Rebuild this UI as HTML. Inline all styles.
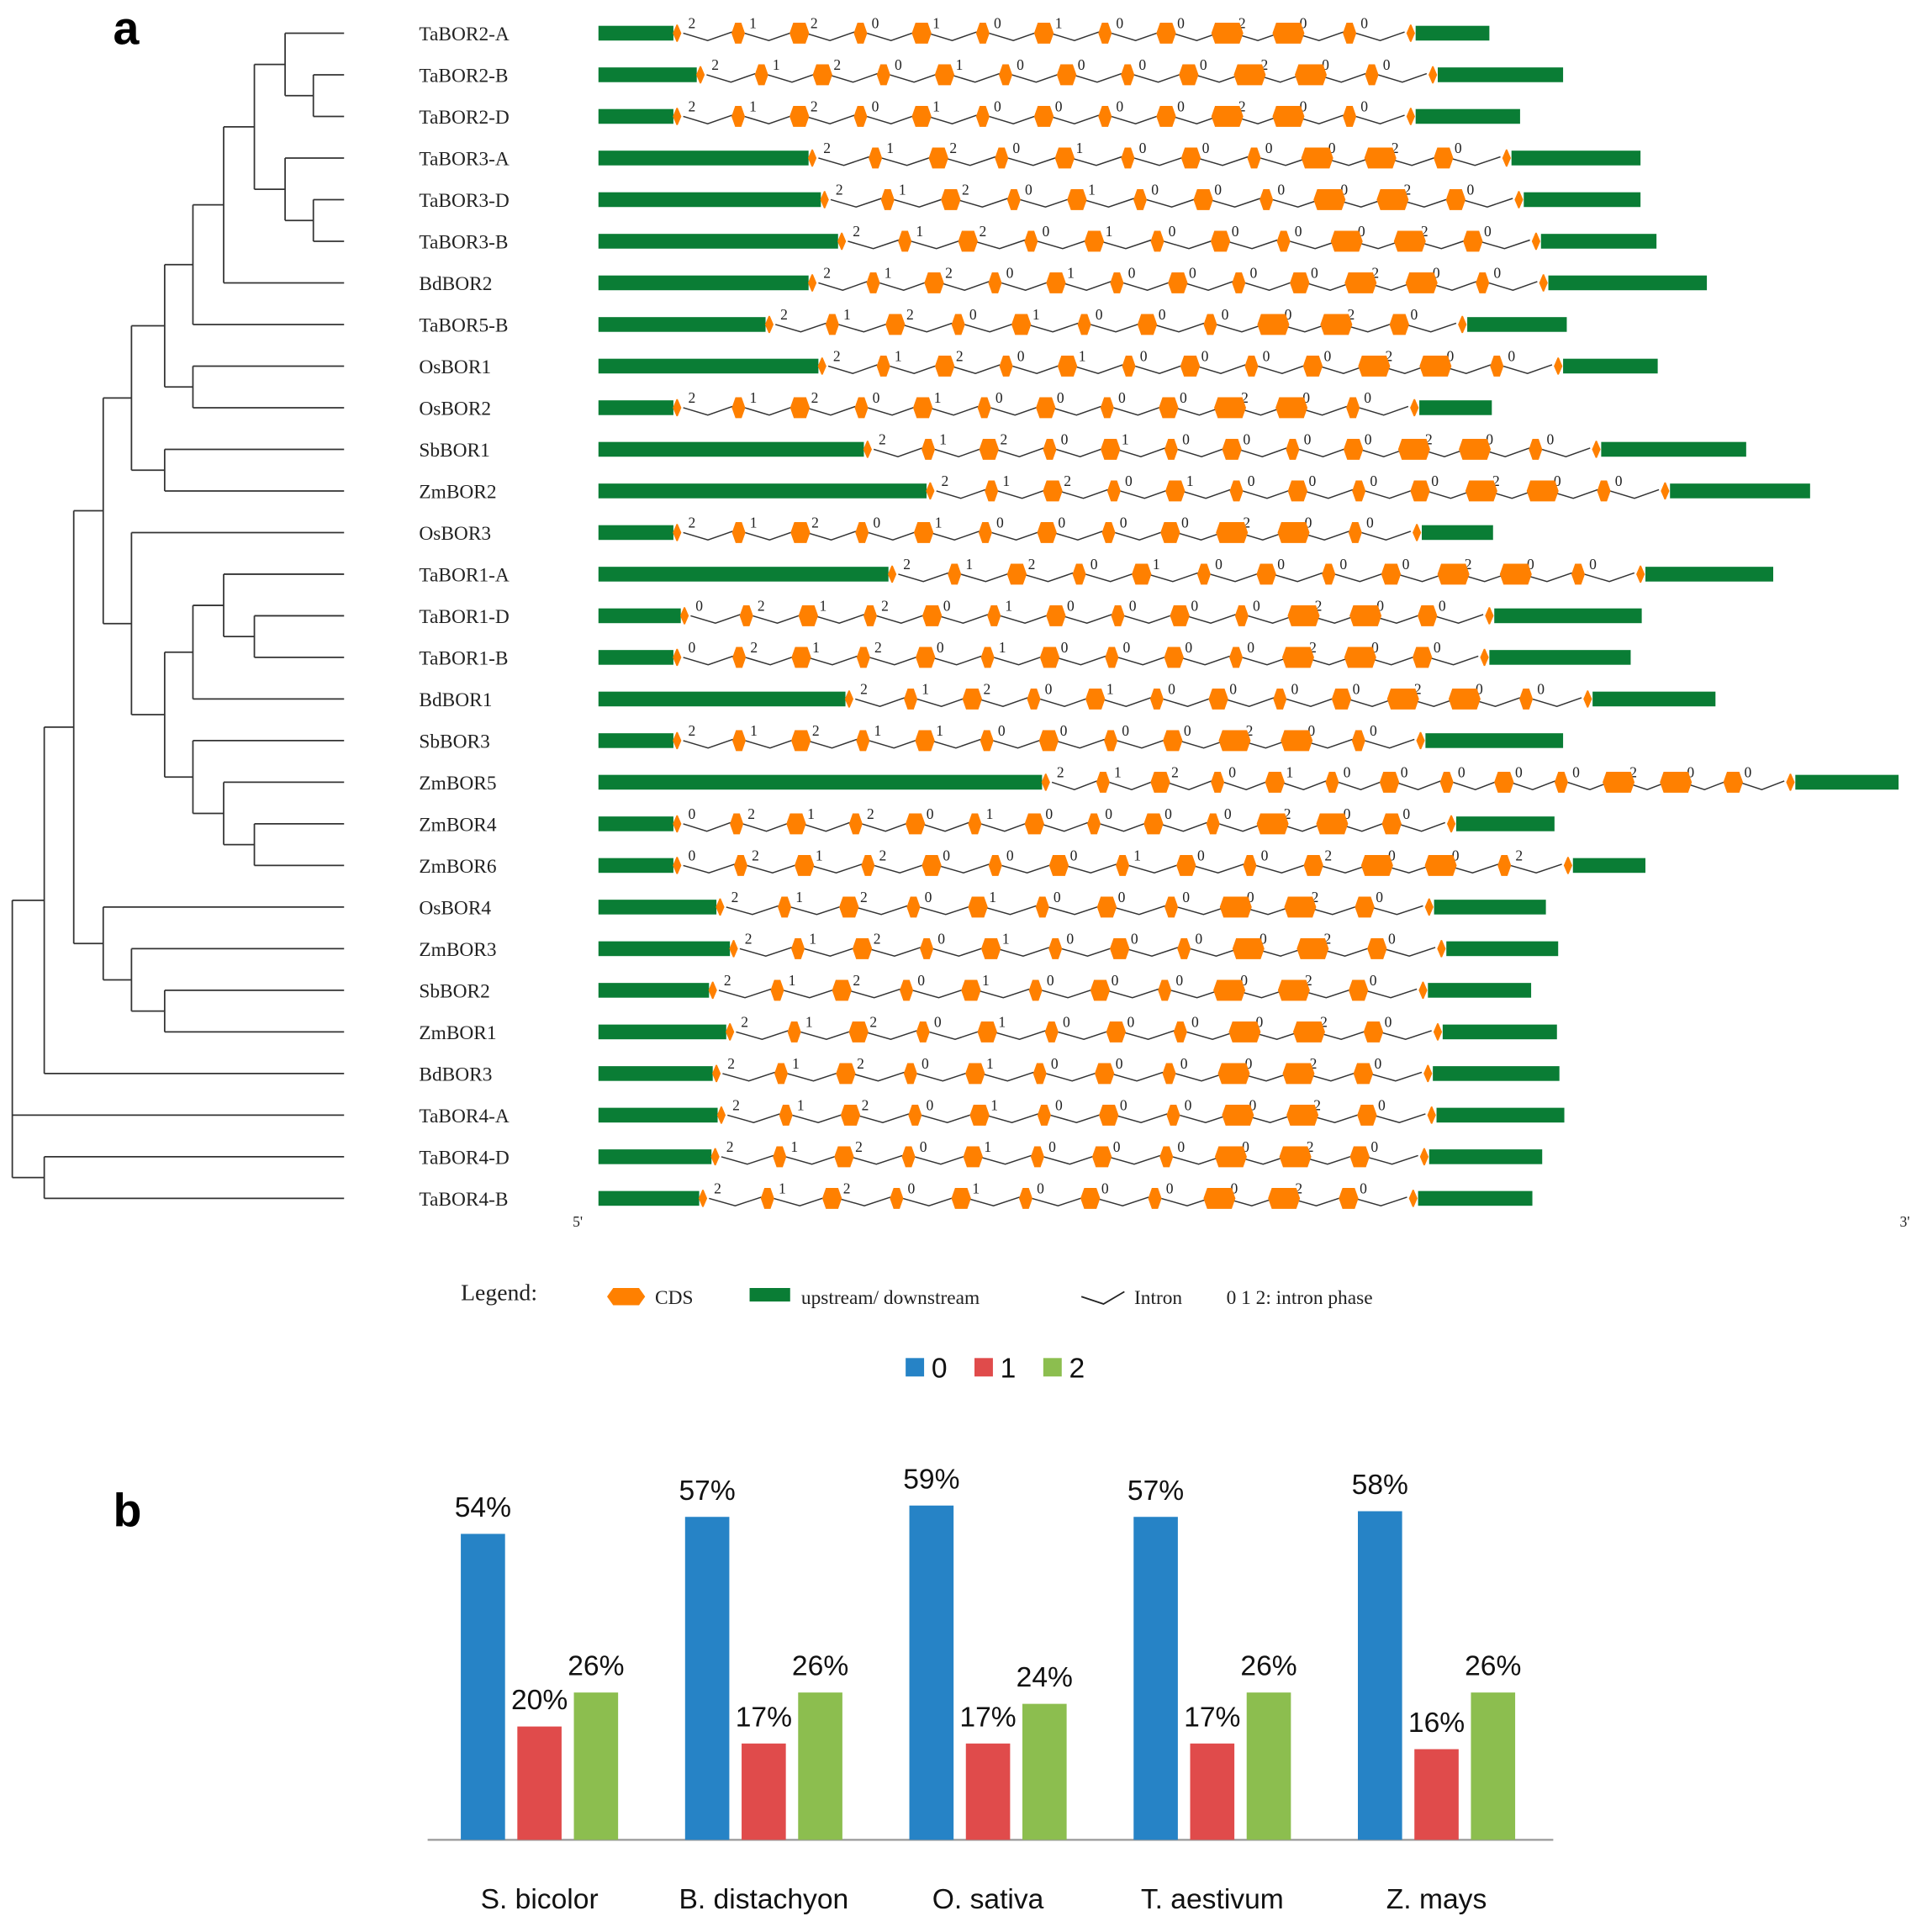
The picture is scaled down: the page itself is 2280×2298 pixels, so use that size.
<!DOCTYPE html>
<html><head><meta charset="utf-8">
<style>
html,body{margin:0;padding:0;background:#fff;}
svg{display:block;}
.gn{font-family:"Liberation Serif",serif;font-size:16px;fill:#222;}
.ph{font-family:"Liberation Serif",serif;font-size:12px;fill:#222;}
.ch{font-family:"Liberation Sans",sans-serif;font-size:23px;fill:#111;}
</style></head>
<body>
<svg id="fig" width="2280" height="2298" viewBox="0 0 1560 1572" preserveAspectRatio="none" xmlns="http://www.w3.org/2000/svg">
<text x="92" y="36" font-family="Liberation Sans,sans-serif" font-weight="bold" font-size="38">a</text>
<text x="92" y="1242" font-family="Liberation Sans,sans-serif" font-weight="bold" font-size="38">b</text>
<g id="tree"></g>
<g id="genes"></g>
<text x="466" y="998" class="ph">5'</text>
<text x="1546" y="998" class="ph">3'</text>
<g>
<text x="375" y="1058" font-family="Liberation Serif,serif" font-size="19" fill="#222">Legend:</text>
<polygon points="494,1055 499,1048 520,1048 525,1055 520,1062 499,1062" fill="#ff8000"/>
<text x="533" y="1061" font-family="Liberation Serif,serif" font-size="16" fill="#222">CDS</text>
<rect x="610" y="1048" width="33" height="11" fill="#0a7d35"/>
<text x="652" y="1061" font-family="Liberation Serif,serif" font-size="16" fill="#222">upstream/ downstream</text>
<polyline points="880,1055 898,1061 915,1051" fill="none" stroke="#222" stroke-width="1.2"/>
<text x="923" y="1061" font-family="Liberation Serif,serif" font-size="16" fill="#222">Intron</text>
<text x="998" y="1061" font-family="Liberation Serif,serif" font-size="16" fill="#222">0 1 2: intron phase</text>
</g>
<g id="chart"></g>
</svg>
<script>
const NS="http://www.w3.org/2000/svg";
function mk(tag,attrs,parent){const e=document.createElementNS(NS,tag);for(const k in attrs)e.setAttribute(k,attrs[k]);parent.appendChild(e);return e;}

// ===== Gene structure data =====
const geneNames=["TaBOR2-A","TaBOR2-B","TaBOR2-D","TaBOR3-A","TaBOR3-D","TaBOR3-B","BdBOR2","TaBOR5-B","OsBOR1","OsBOR2","SbBOR1","ZmBOR2","OsBOR3","TaBOR1-A","TaBOR1-D","TaBOR1-B","BdBOR1","SbBOR3","ZmBOR5","ZmBOR4","ZmBOR6","OsBOR4","ZmBOR3","SbBOR2","ZmBOR1","BdBOR3","TaBOR4-A","TaBOR4-D","TaBOR4-B"];
const upEnd=[548,567,548,658,668,682,658,623,666,548,703,754,548,723,554,548,688,548,848,548,548,583,594,577,591,580,584,579,569];
const downStart=[1150,1168,1150,1228,1238,1252,1258,1192,1270,1153,1301,1357,1155,1337,1214,1210,1294,1158,1459,1183,1278,1165,1175,1160,1172,1164,1167,1161,1152];
const downEnd=[1212,1272,1237,1335,1335,1348,1389,1275,1349,1214,1421,1473,1215,1443,1336,1327,1396,1272,1545,1265,1339,1258,1268,1246,1267,1269,1273,1255,1247];
const phases=["212010100200","212010000200","212010000200","21201000020","21201000020","21201000020","212010000200","21201000020","212010000200","212010000200","212010000200","212010000200","212010000200","212010000200","0212010000200","0212010000200","212010000200","212110000200","2120100000200","0212010000200","02120001002002","21201000020","21201000020","21201000020","21201000020","21201000020","21201000020","21201000020","21201000020"];
const rowY0=27, rowStep=33.86;

const G=document.getElementById('genes');
geneNames.forEach((name,i)=>{
  const y=rowY0+i*rowStep;
  const t=mk('text',{x:341,y:y+6,class:'gn'},G);t.textContent=name;
  
  
  const up=mk('rect',{x:487,y:y-6,width:upEnd[i]-487,height:12,fill:'#0a7d35'},G);
  
  
  const dn=mk('rect',{x:downStart[i]+2,y:y-6,width:downEnd[i]-downStart[i]-2,height:12,fill:'#0a7d35'},G);
  
  
  const ph=phases[i];const n=ph.length+1;
  const a=upEnd[i]+3,b=downStart[i]-2;const step=(b-a)/(n-1);
  const xs=[];for(let k=0;k<n;k++)xs.push(a+k*step);
  for(let k=0;k<n-1;k++){
    const x1=xs[k]+5,x2=xs[k+1]-5;
    const p=mk('polyline',{points:`${x1},${y} ${(x1+x2)/2},${y+6} ${x2},${y-1}`,fill:'none',stroke:'#333','stroke-width':1},G);
    
    
    const l=mk('text',{x:x1+4,y:y-4,class:'ph'},G);l.textContent=ph[k];
    
    
  }
  for(let k=0;k<n;k++){
    let w=11;
    if(k===0||k===n-1)w=7;
    else if(k===n-3||k===n-4)w=26;
    else if(k%2===0)w=16;
    const x=xs[k],h=w>8?8.5:7;
    const e=mk('polygon',{points:`${x-w/2},${y} ${x-w/2+3},${y-h} ${x+w/2-3},${y-h} ${x+w/2},${y} ${x+w/2-3},${y+h} ${x-w/2+3},${y+h}`,fill:'#ff8000'},G);
    
    
  }
});

// ===== Tree =====
const T=document.getElementById('tree');
function leaf(i){return {leaf:i};}
function nd(x,...c){return {x,c};}
const tree=nd(10,
  nd(36,
    nd(60,
      nd(84,
        nd(107,
          nd(134, nd(157, nd(182, nd(207, nd(232,leaf(0),nd(255,leaf(1),leaf(2))), nd(232,leaf(3),nd(255,leaf(4),leaf(5)))), leaf(6)), leaf(7)), nd(157,leaf(8),leaf(9))),
          nd(134,leaf(10),leaf(11))),
        nd(107, leaf(12),
          nd(134, nd(157, nd(182, leaf(13), nd(207,leaf(14),leaf(15))), leaf(16)),
                  nd(157, leaf(17), nd(182, leaf(18), nd(207,leaf(19),leaf(20))))))),
      nd(84, leaf(21), nd(107, leaf(22), nd(134,leaf(23),leaf(24))))),
    leaf(25)),
  leaf(26),
  nd(36,leaf(27),leaf(28)));
function draw(n){
  if(n.leaf!==undefined)return {y:rowY0+n.leaf*rowStep,x:280};
  const ys=n.c.map(draw);
  const ymin=Math.min(...ys.map(o=>o.y)),ymax=Math.max(...ys.map(o=>o.y));
  ys.forEach(o=>{const l=mk('line',{x1:n.x,y1:o.y,x2:o.x,y2:o.y,stroke:'#333','stroke-width':1.2},T);
    
    });
  const v=mk('line',{x1:n.x,y1:ymin,x2:n.x,y2:ymax,stroke:'#333','stroke-width':1.2},T);
  
  
  return {y:(ymin+ymax)/2,x:n.x};
}
draw(tree);

// ===== Bar chart =====
const species=["S. bicolor","B. distachyon","O. sativa","T. aestivum","Z. mays"];
const phase0=[54,57,59,57,58];
const phase1=[20,17,17,17,16];
const phase2=[26,26,24,26,26];
const seriesNames=["0","1","2"];
const colors=["#2683c6","#e04b4b","#8cbe4f"];
const C=document.getElementById('chart');
const base=1497,pxPer=4.61,g0=375,gStep=182.5,bw=36,bGap=46;
const yS=v=>base-v*pxPer;
const bl=mk('line',{x1:348,y1:base,x2:1264,y2:base,stroke:'#999','stroke-width':1.5},C);


[phase0,phase1,phase2].forEach((s,si)=>{
  s.forEach((v,gi)=>{
    const x=g0+gi*gStep+si*bGap;
    const r=mk('rect',{x:x,y:yS(v),width:bw,height:base-yS(v),fill:colors[si]},C);
    
    
    const t=mk('text',{x:x+bw/2,y:yS(v)-14,class:'ch','text-anchor':'middle'},C);t.textContent=v+'%';
    
    
  });
});
species.forEach((s,gi)=>{
  const t=mk('text',{x:g0+gi*gStep+64,y:1553,class:'ch','text-anchor':'middle'},C);t.textContent=s;
  
  
});
seriesNames.forEach((s,si)=>{
  const x=737+si*56;
  const r=mk('rect',{x:x,y:1105,width:15,height:15,fill:colors[si]},C);
  
  
  const t=mk('text',{x:x+21,y:1121,class:'ch'},C);t.textContent=s;
  
  
});
</script>
</body></html>
